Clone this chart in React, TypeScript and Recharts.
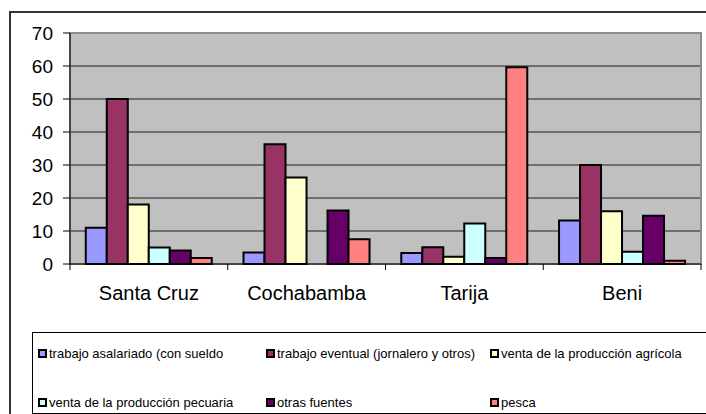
import React from 'react';
import { BarChart, Bar, XAxis, YAxis, CartesianGrid, ReferenceArea } from 'recharts';

const categories = ['Santa Cruz', 'Cochabamba', 'Tarija', 'Beni'];

const asalariado = [11, 3.5, 3.3, 13.2];
const eventual = [50, 36.3, 5.1, 30];
const agricola = [18, 26.2, 2.2, 16];
const pecuaria = [5, 0, 12.3, 3.7];
const otrasFuentes = [4.1, 16.2, 1.8, 14.6];
const pesca = [1.8, 7.5, 59.6, 1];

const seriesNames = [
  'trabajo asalariado (con sueldo',
  'trabajo eventual (jornalero y otros)',
  'venta de la producción agrícola',
  'venta de la producción pecuaria',
  'otras fuentes',
  'pesca',
];
const seriesValues = [asalariado, eventual, agricola, pecuaria, otrasFuentes, pesca];
const seriesColors = ['#9999ff', '#993366', '#ffffcc', '#ccffff', '#660066', '#ff8080'];

const yTicks = [0, 10, 20, 30, 40, 50, 60, 70];

const data = categories.map((name, i) => {
  const row: Record<string, string | number> = { name };
  seriesNames.forEach((s, j) => { row[s] = seriesValues[j][i]; });
  return row;
});

const FONT = 'Arial, "Liberation Sans", sans-serif';
const PLOT_LEFT = 70;
const PLOT_RIGHT = 701;
const BAND = (PLOT_RIGHT - PLOT_LEFT) / categories.length;

// legend grid: three columns, two rows
const legendCols = [38, 266, 490];
const legendRows = [353, 402];

function CategoryTick(props: any) {
  const { x, y, payload, index } = props;
  const left = x - BAND / 2;
  return (
    <g>
      <line x1={left} y1={y} x2={left} y2={y + 6} stroke="#000" />
      {index === categories.length - 1 && (
        <line x1={x + BAND / 2} y1={y} x2={x + BAND / 2} y2={y + 6} stroke="#000" />
      )}
      <text x={x} y={y + 36} textAnchor="middle" fontSize={20} fontFamily={FONT} fill="#000">
        {payload.value}
      </text>
    </g>
  );
}

export default function App() {
  return (
    <div
      style={{
        position: 'absolute', left: 0, top: 0, width: 706, height: 414,
        overflow: 'hidden', background: '#fff', fontFamily: FONT,
      }}
    >
      <div
        style={{
          position: 'absolute', left: 9, top: 11, width: 740, height: 440,
          border: '2px solid #333',
        }}
      />
      <div style={{ position: 'absolute', left: 0, top: 0 }}>
        <BarChart
          width={706}
          height={414}
          data={data}
          margin={{ top: 33, right: 5, bottom: 110, left: 0 }}
          barCategoryGap="10%"
          barGap={0}
        >
          <CartesianGrid vertical={false} fill="#c0c0c0" stroke="#000" strokeOpacity={0.85} />
          <ReferenceArea y1={0} y2={70} fill="none" stroke="#8c8c8c" strokeWidth={2} />
          <XAxis
            dataKey="name"
            height={40}
            tickSize={0}
            tickMargin={0}
            axisLine={{ stroke: '#000' }}
            tick={<CategoryTick />}
            interval={0}
          />
          <YAxis
            width={70}
            domain={[0, 70]}
            ticks={yTicks}
            tickSize={7}
            tickMargin={10}
            axisLine={{ stroke: '#000' }}
            tickLine={{ stroke: '#000' }}
            tick={{ fill: '#000', fontSize: 19, fontFamily: FONT }}
          />
          {seriesNames.map((s, i) => (
            <Bar
              key={s}
              dataKey={s}
              fill={seriesColors[i]}
              stroke="#000"
              strokeWidth={2}
              isAnimationActive={false}
            />
          ))}
        </BarChart>
      </div>
      <div
        style={{
          position: 'absolute', left: 32, top: 332, width: 720, height: 80,
          border: '1px solid #000',
        }}
      />
      {seriesNames.map((s, i) => {
        const x = legendCols[i % 3];
        const y = legendRows[Math.floor(i / 3)];
        return (
          <div
            key={s}
            style={{
              position: 'absolute', left: x, top: y - 9, height: 18,
              display: 'flex', alignItems: 'center', whiteSpace: 'nowrap',
              fontSize: 13, color: '#000',
            }}
          >
            <span
              style={{
                display: 'inline-block', width: 5, height: 5,
                border: '2px solid #000', background: seriesColors[i], marginRight: 2,
              }}
            />
            {s}
          </div>
        );
      })}
    </div>
  );
}
